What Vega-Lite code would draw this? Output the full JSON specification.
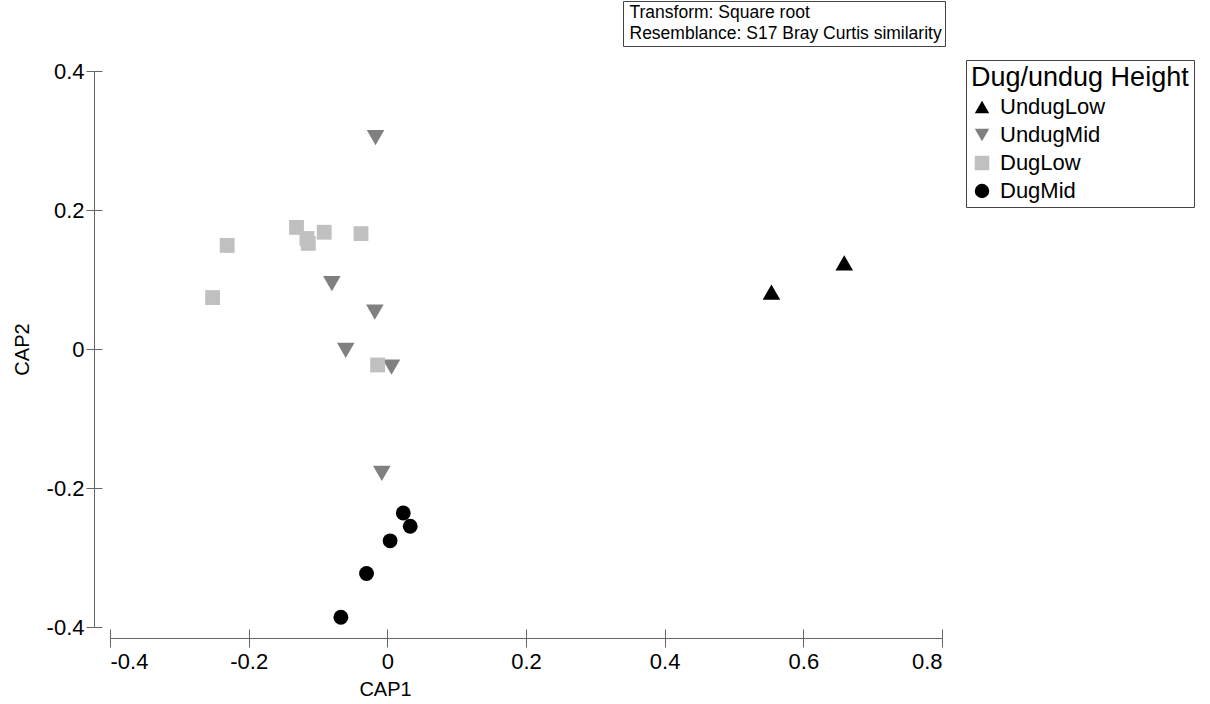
{
  "$schema": "https://vega.github.io/schema/vega-lite/v6.json",
  "width": 832,
  "height": 556,
  "autosize": {"type": "none"},
  "padding": {"left": 110, "top": 71, "right": 268, "bottom": 77},
  "background": "white",
  "config": {
    "view": {"stroke": null},
    "font": "Liberation Sans",
    "axis": {
      "grid": false,
      "domainColor": "#666666",
      "tickColor": "#666666",
      "labelColor": "#000000",
      "titleColor": "#000000",
      "labelFont": "Liberation Sans",
      "titleFont": "Liberation Sans",
      "labelFontSize": 22,
      "titleFontSize": 20,
      "titleFontWeight": "normal"
    }
  },
  "datasets": {
    "points": [
      {"group": "UndugLow", "CAP1": 0.554, "CAP2": 0.082},
      {"group": "UndugLow", "CAP1": 0.659, "CAP2": 0.124},
      {"group": "UndugMid", "CAP1": -0.017, "CAP2": 0.304},
      {"group": "UndugMid", "CAP1": -0.080, "CAP2": 0.094},
      {"group": "UndugMid", "CAP1": -0.018, "CAP2": 0.053},
      {"group": "UndugMid", "CAP1": -0.060, "CAP2": -0.002},
      {"group": "UndugMid", "CAP1": 0.006, "CAP2": -0.026},
      {"group": "UndugMid", "CAP1": -0.008, "CAP2": -0.179},
      {"group": "DugLow", "CAP1": -0.231, "CAP2": 0.149},
      {"group": "DugLow", "CAP1": -0.252, "CAP2": 0.074},
      {"group": "DugLow", "CAP1": -0.131, "CAP2": 0.175},
      {"group": "DugLow", "CAP1": -0.116, "CAP2": 0.159},
      {"group": "DugLow", "CAP1": -0.114, "CAP2": 0.152},
      {"group": "DugLow", "CAP1": -0.091, "CAP2": 0.168},
      {"group": "DugLow", "CAP1": -0.038, "CAP2": 0.166},
      {"group": "DugLow", "CAP1": -0.014, "CAP2": -0.023},
      {"group": "DugMid", "CAP1": 0.023, "CAP2": -0.236},
      {"group": "DugMid", "CAP1": 0.033, "CAP2": -0.255},
      {"group": "DugMid", "CAP1": 0.004, "CAP2": -0.276},
      {"group": "DugMid", "CAP1": -0.030, "CAP2": -0.323},
      {"group": "DugMid", "CAP1": -0.067, "CAP2": -0.386}
    ],
    "notes": [
      {"note": "Transform: Square root"},
      {"note": "Resemblance: S17 Bray Curtis similarity"}
    ]
  },
  "resolve": {"axis": {"x": "independent", "y": "independent"}},
  "layer": [
    {
      "data": {"name": "points"},
      "mark": {"type": "point", "filled": true, "opacity": 1, "strokeWidth": 0},
      "encoding": {
        "x": {
          "field": "CAP1", "type": "quantitative",
          "scale": {"domain": [-0.4, 0.8], "nice": false, "zero": false},
          "axis": {
            "title": "CAP1",
            "orient": "bottom",
            "offset": 11,
            "tickSize": 9,
            "labelPadding": 4,
            "values": [-0.4, -0.2, 0, 0.2, 0.4, 0.6, 0.8],
            "labelExpr": "datum.value == 0 ? '0' : replace(format(datum.value, '.1f'), '\u2212', '-')",
            "titleX": 275,
            "titlePadding": 7
          }
        },
        "y": {
          "field": "CAP2", "type": "quantitative",
          "scale": {"domain": [-0.4, 0.4], "nice": false, "zero": false},
          "axis": {
            "title": "CAP2",
            "orient": "left",
            "offset": 16,
            "tickSize": 8,
            "labelPadding": 2,
            "values": [-0.4, -0.2, 0, 0.2, 0.4],
            "labelExpr": "datum.value == 0 ? '0' : replace(format(datum.value, '.1f'), '\u2212', '-')",
            "titlePadding": 14
          }
        },
        "shape": {
          "field": "group", "type": "nominal",
          "scale": {
            "domain": ["UndugLow", "UndugMid", "DugLow", "DugMid"],
            "range": ["triangle-up", "triangle-down", "square", "circle"]
          },
          "legend": {
            "title": "Dug/undug Height",
            "orient": "none",
            "legendX": 856,
            "legendY": -11,
            "strokeColor": "#444444",
            "fillColor": "white",
            "padding": 5,
            "titleFont": "Liberation Sans",
            "titleFontSize": 27,
            "titleFontWeight": "normal",
            "titleColor": "#000000",
            "titleLimit": 0,
            "titlePadding": 4,
            "labelFont": "Liberation Sans",
            "labelFontSize": 22,
            "labelColor": "#000000",
            "labelOffset": 7,
            "rowPadding": 6,
            "symbolSize": 210,
            "symbolStrokeWidth": 0
          }
        },
        "color": {
          "field": "group", "type": "nominal",
          "scale": {
            "domain": ["UndugLow", "UndugMid", "DugLow", "DugMid"],
            "range": ["#000000", "#808080", "#c0c0c0", "#000000"]
          }
        },
        "size": {
          "condition": {"test": "datum.group === 'UndugLow' || datum.group === 'UndugMid'", "value": 310},
          "value": 220
        }
      }
    },
    {
      "data": {"name": "points"},
      "mark": {"type": "point", "opacity": 0},
      "encoding": {
        "x": {
          "field": "CAP1", "type": "quantitative",
          "axis": {
            "title": null,
            "orient": "bottom",
            "offset": 11,
            "tickSize": -9,
            "labels": false,
            "domain": false,
            "values": [-0.4, -0.2, 0, 0.2, 0.4, 0.6, 0.8]
          }
        },
        "y": {
          "field": "CAP2", "type": "quantitative",
          "axis": {
            "title": null,
            "orient": "left",
            "offset": 16,
            "tickSize": -8,
            "labels": false,
            "domain": false,
            "values": [-0.4, -0.2, 0, 0.2, 0.4]
          }
        }
      }
    },
    {
      "data": {"name": "notes"},
      "mark": {"type": "point", "opacity": 0},
      "encoding": {
        "strokeDash": {
          "field": "note", "type": "nominal",
          "scale": {"domain": ["Transform: Square root", "Resemblance: S17 Bray Curtis similarity"]},
          "legend": {
            "title": null,
            "orient": "none",
            "legendX": 513,
            "legendY": -70,
            "strokeColor": "#444444",
            "fillColor": "white",
            "padding": 3,
            "labelFont": "Liberation Sans",
            "labelFontSize": 17.5,
            "labelColor": "#000000",
            "labelLimit": 0,
            "labelOffset": -14,
            "rowPadding": 2,
            "symbolSize": 0,
            "symbolOpacity": 0,
            "symbolStrokeWidth": 0
          }
        }
      }
    }
  ]
}
